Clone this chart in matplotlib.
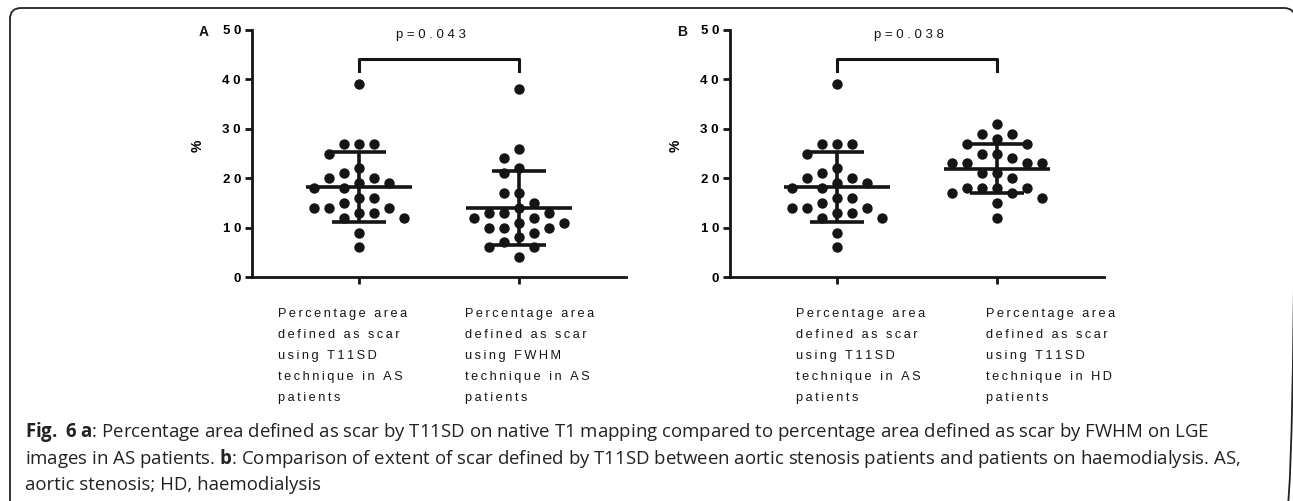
import numpy as np
import matplotlib
matplotlib.use('Agg')
import matplotlib.pyplot as plt
from matplotlib.patches import FancyBboxPatch

W, H = 1293, 501

# values (percentage area defined as scar)
as_t11sd = [39, 27, 27, 27, 25, 22, 21, 20, 20, 19, 19, 18, 18, 16, 16, 15,
            14, 14, 14, 13, 13, 12, 12, 9, 6]
as_fwhm = [38, 26, 24, 22, 21, 17, 17, 15, 14, 13, 13, 13, 12, 12, 11, 11,
           10, 10, 10, 9, 8, 7, 6, 6, 4]
hd_t11sd = [31, 29, 29, 28, 27, 27, 25, 25, 24, 23, 23, 23, 23, 21, 21, 20,
            18, 18, 18, 18, 17, 17, 16, 15, 12]

labels_a = ["Percentage area\ndefined as scar\nusing T11SD\ntechnique in AS\npatients",
            "Percentage area\ndefined as scar\nusing FWHM\ntechnique in AS\npatients"]
labels_b = ["Percentage area\ndefined as scar\nusing T11SD\ntechnique in AS\npatients",
            "Percentage area\ndefined as scar\nusing T11SD\ntechnique in HD\npatients"]
p_values = ["p=0.043", "p=0.038"]
panel_letters = ["A", "B"]
y_ticks = [0, 10, 20, 30, 40, 50]

caption_lines = [
    "$\\mathbf{Fig.}$ $\\mathbf{6}$ $\\mathbf{a}$: Percentage area defined as scar by T11SD on native T1 mapping "
    "compared to percentage area defined as scar by FWHM on LGE",
    "images in AS patients. $\\mathbf{b}$: Comparison of extent of scar defined by T11SD "
    "between aortic stenosis patients and patients on haemodialysis. AS,",
    "aortic stenosis; HD, haemodialysis",
]

INK = '#151515'
plt.rcParams['font.family'] = ['Liberation Sans', 'DejaVu Sans']
plt.rcParams['mathtext.fontset'] = 'custom'
plt.rcParams['mathtext.rm'] = 'Open Sans'
plt.rcParams['mathtext.bf'] = 'Open Sans:bold'


def spaced(s, gap=" "):
    # GraphPad-style letter spacing
    return "\n".join(gap.join(line) for line in s.split("\n"))


def swarm_offsets(vals, px_x, px_y, diam=13.0, step=7.5):
    order = np.argsort(-np.asarray(vals), kind='stable')
    cands = [0.0] + [s * k * step for k in range(1, 30) for s in (-1, 1)]
    placed = []
    offs = np.zeros(len(vals))
    for i in order:
        y = vals[i] * px_y
        for c in cands:
            if all((c - px) ** 2 + (y - py) ** 2 >= diam ** 2 for px, py in placed):
                break
        placed.append((c, y))
        offs[i] = c / px_x
    return offs


def draw_panel(ax, groups, labels, label_x, pval, letter):
    for k, vals in enumerate(groups):
        pos = k + 1
        v = np.array(vals, float)
        xs = pos + swarm_offsets(v, 160.0, 4.94)
        ax.scatter(xs, v, s=56, color=INK, linewidths=0, zorder=3)
        m, sd = v.mean(), v.std(ddof=1)
        kw = dict(color=INK, lw=2.6, solid_capstyle='butt', zorder=4)
        ax.plot([pos - 0.33, pos + 0.33], [m, m], **kw)
        ax.plot([pos, pos], [m - sd, m + sd], **kw)
        ax.plot([pos - 0.17, pos + 0.17], [m + sd, m + sd], **kw)
        ax.plot([pos - 0.17, pos + 0.17], [m - sd, m - sd], **kw)
        ax.text(label_x[k], -0.124, spaced(labels[k], "\u2009"), transform=ax.get_xaxis_transform(),
                ha='left', va='top', fontsize=9.2, linespacing=2.0, color=INK)

    # significance bracket
    ax.plot([1, 1, 2, 2], [41.8, 44.1, 44.1, 41.8], color=INK, lw=2.2, clip_on=False)
    ax.text(1.45, 49.0, spaced(pval), ha='center', va='center', fontsize=9.5, color=INK)

    ax.set_xlim(0.33, 2.67)
    ax.set_ylim(0, 50)
    ax.set_xticks([1, 2])
    ax.set_xticklabels([])
    ax.set_yticks(y_ticks)
    ax.set_yticklabels([spaced(str(t)) for t in y_ticks], fontsize=9.5, fontweight='bold')
    ax.tick_params(length=5, width=2, color=INK, pad=3)
    for side in ['top', 'right']:
        ax.spines[side].set_visible(False)
    for side in ['left', 'bottom']:
        ax.spines[side].set_linewidth(2)
        ax.spines[side].set_color(INK)
    ax.set_ylabel('%', fontsize=10, fontweight='bold')
    ax.yaxis.set_label_coords(-0.128, 0.53)
    ax.text(-0.128, 0.992, letter, transform=ax.transAxes, ha='center', va='center',
            fontsize=10, fontweight='bold', color=INK)


fig = plt.figure(figsize=(W / 100, H / 100), dpi=100)
fig.patch.set_facecolor('white')

# frame + caption drawn in pixel coordinates
bg = fig.add_axes([0, 0, 1, 1])
bg.set_xlim(0, W)
bg.set_ylim(H, 0)
bg.axis('off')
bg.add_patch(FancyBboxPatch((10, 8), W - 8.0, H + 20, boxstyle="round,pad=0,rounding_size=11",
                            fill=False, edgecolor='#222222', lw=1.3))
for i, line in enumerate(caption_lines):
    bg.text(25, 437 + 26.5 * i, line, ha='left', va='baseline', fontsize=13.4,
            family='Open Sans', color='#222222')

ax_a = fig.add_axes([252 / W, (H - 277) / H, 374 / W, 247 / H])
ax_b = fig.add_axes([730 / W, (H - 277) / H, 374 / W, 247 / H])

draw_panel(ax_a, [as_t11sd, as_fwhm], labels_a, [0.49, 1.66], p_values[0], panel_letters[0])
draw_panel(ax_b, [as_t11sd, hd_t11sd], labels_b, [0.74, 1.93], p_values[1], panel_letters[1])

fig.savefig('out.png', dpi=100, facecolor='white')
plt.close(fig)
